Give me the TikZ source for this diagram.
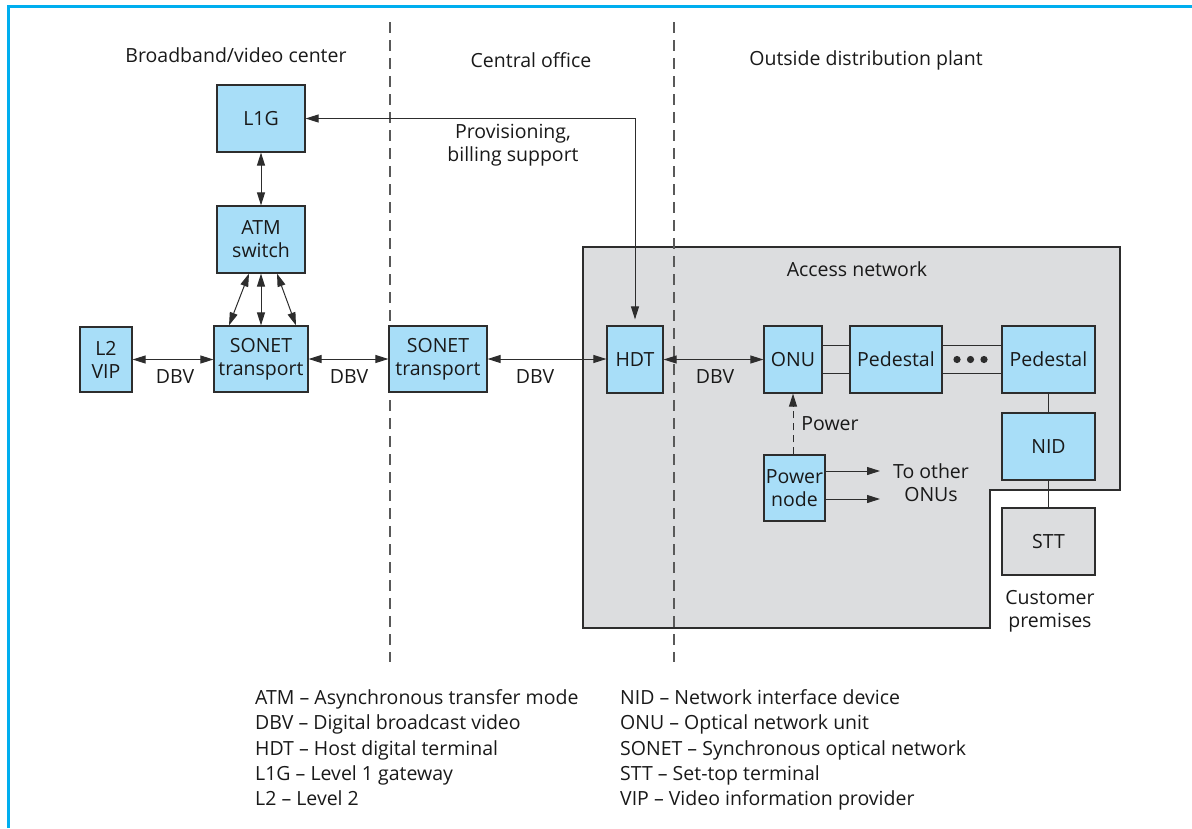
\documentclass[tikz,border=0pt]{standalone}
\usepackage{fontspec}
\setmainfont{Open Sans}
\usetikzlibrary{arrows.meta}
\definecolor{frameblue}{RGB}{0,174,239}
\definecolor{boxblue}{RGB}{168,222,248}
\definecolor{netgray}{RGB}{220,221,223}
\definecolor{edgecol}{RGB}{45,45,45}
\definecolor{txt}{RGB}{25,25,25}
\begin{document}
\begin{tikzpicture}[x=1pt,y=-1pt,
  every node/.style={font=\fontsize{19.5}{23}\selectfont, text=txt},
  unit/.style={draw=edgecol, fill=boxblue, line width=1.2pt, inner sep=0pt, align=center},
  graybox/.style={draw=edgecol, fill=netgray, line width=1.2pt, inner sep=0pt, align=center},
  tip/.tip={Triangle[length=13pt,width=8pt]},
  dbl/.style={draw=edgecol, line width=1pt, tip-tip},
  sgl/.style={draw=edgecol, line width=1pt, -tip},
  plain/.style={draw=edgecol, line width=1pt},
  divider/.style={draw=black!65, line width=1.2pt, dash pattern=on 11pt off 7pt},
  lbl/.style={align=center, inner sep=0pt},
  leg/.style={anchor=base west, inner sep=0pt}]
\useasboundingbox (0,0) rectangle (1192,828);
% frame
\draw[frameblue, line width=3pt] (8,828) -- (8,6) -- (1192,6);
% access network area
\draw[graybox] (583,247) -- (1120,247) -- (1120,490) -- (990,490) -- (990,628) -- (583,628) -- cycle;
% dividers
\draw[divider] (390,22) -- (390,662);
\draw[divider] (674,22) -- (674,662);
% section titles
\node[lbl] (t1) at (236,55) {Broadband/video center};
\node[lbl] (t2) at (531,60) {Central office};
\node[lbl] (t3) at (866,60) {Outside distribution plant};
\node[lbl] (tan) at (857,269) {Access network};
% boxes
\node[unit, minimum width=88pt, minimum height=67pt] (L1G) at (261,118.5) {L1G};
\node[unit, minimum width=88pt, minimum height=67pt] (ATM) at (261,239.5) {ATM\\switch};
\node[unit, minimum width=94pt, minimum height=66pt] (SL) at (261,359) {SONET\\transport};
\node[unit, minimum width=52pt, minimum height=65pt] (VIP) at (106,359.5) {L2\\VIP};
\node[unit, minimum width=98pt, minimum height=66pt] (SC) at (438,359) {SONET\\transport};
\node[unit, minimum width=56pt, minimum height=67pt] (HDT) at (635,359.5) {HDT};
\node[unit, minimum width=58pt, minimum height=67pt] (ONU) at (793,359.5) {ONU};
\node[unit, minimum width=92pt, minimum height=67pt] (P1) at (896,359.5) {Pedestal};
\node[unit, minimum width=93pt, minimum height=67pt] (P2) at (1048.5,359.5) {Pedestal};
\node[unit, minimum width=93pt, minimum height=67pt] (NID) at (1048.5,446.5) {NID};
\node[graybox, minimum width=93pt, minimum height=67pt] (STT) at (1048.5,541.5) {STT};
\node[unit, minimum width=61pt, minimum height=66pt] (PN) at (794.5,488) {Power\\node};
% connectors
\draw[dbl] (L1G.south) -- (ATM.north);
\draw[dbl] (ATM.south) -- (ATM.south |- SL.north);
\draw[dbl] ([xshift=-12pt]ATM.south) -- ([xshift=-32pt]SL.north);
\draw[dbl] ([xshift=16pt]ATM.south) -- ([xshift=35pt]SL.north);
\draw[dbl] (VIP.east) -- (VIP.east -| SL.west);
\draw[dbl] (SL.east) -- (SC.west);
\draw[dbl] (SC.east) -- (SC.east -| HDT.west);
\draw[dbl] (HDT.east) -- (ONU.west);
\draw[dbl, shorten >=6pt] (L1G.east) -| (HDT.north);
\draw[plain] ([yshift=14pt]ONU.east) -- ([yshift=14pt]ONU.east -| P1.west);
\draw[plain] ([yshift=-14pt]ONU.east) -- ([yshift=-14pt]ONU.east -| P1.west);
\draw[plain] ([yshift=14pt]P1.east) -- ([yshift=14pt]P1.east -| P2.west);
\draw[plain] ([yshift=-14pt]P1.east) -- ([yshift=-14pt]P1.east -| P2.west);
\fill[edgecol] (957,359.5) circle (3.6pt) (970.5,359.5) circle (3.6pt) (984,359.5) circle (3.6pt);
\draw[plain] (P2.south) -- (NID.north);
\draw[plain] (NID.south) -- (STT.north);
\draw[sgl, dash pattern=on 7pt off 5pt] (PN.north -| ONU.south) -- (ONU.south);
\coordinate (o1) at (880,471);
\coordinate (o2) at (880,499);
\draw[sgl] (PN.east |- o1) -- (o1);
\draw[sgl] (PN.east |- o2) -- (o2);
% labels
\node[lbl] (d1) at (175,377) {DBV};
\node[lbl] (d2) at (349,377) {DBV};
\node[lbl] (d3) at (535,377) {DBV};
\node[lbl] (d4) at (715,377) {DBV};
\node[lbl] (prov) at (513,145) {Provisioning,\\billing support};
\node[lbl] (pw) at (830,424) {Power};
\node[lbl] (oth) at (931,482.5) {To other\\ONUs};
\node[lbl] (cp) at (1050,611) {Customer\\premises};
% legend
\node[leg] (g1) at (255,704) {ATM – Asynchronous transfer mode};
\node[leg] (g2) at (255,729) {DBV – Digital broadcast video};
\node[leg] (g3) at (255,755) {HDT – Host digital terminal};
\node[leg] (g4) at (255,780) {L1G – Level 1 gateway};
\node[leg] (g5) at (255,805) {L2 – Level 2};
\node[leg] (h1) at (620,704) {NID – Network interface device};
\node[leg] (h2) at (620,729) {ONU – Optical network unit};
\node[leg] (h3) at (620,755) {SONET – Synchronous optical network};
\node[leg] (h4) at (620,780) {STT – Set-top terminal};
\node[leg] (h5) at (620,805) {VIP – Video information provider};
\end{tikzpicture}
\end{document}
